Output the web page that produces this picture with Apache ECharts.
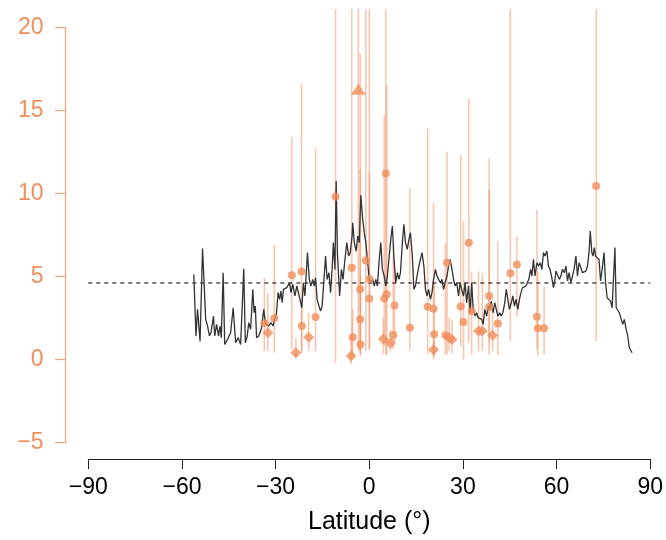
<!DOCTYPE html>
<html><head><meta charset="utf-8">
<script src="https://cdn.jsdelivr.net/npm/echarts@6/dist/echarts.min.js"></script>
<style>html,body{margin:0;padding:0;background:#fff}#c{width:666px;height:540px}</style>
</head><body><div id="c"></div>
<script>
// Black line: latitude (deg) and value
const lineLat = [
-56.2,-55.5,-55.0,-54.2,-53.4,-52.4,-51.8,-51.2,-50.7,-49.9,
-49.5,-48.9,-48.3,-47.8,-47.4,-46.8,-46.3,-45.4,-44.4,-43.6,
-42.8,-42.0,-41.2,-40.6,-40.2,-39.7,-39.1,-38.6,-38.0,-37.3,
-36.9,-36.5,-36.1,-35.4,-34.6,-33.8,-33.3,-32.2,-31.5,-30.8,
-30.4,-29.8,-29.2,-28.7,-28.3,-27.9,-27.5,-26.9,-26.4,-25.5,
-25.1,-24.5,-23.8,-23.2,-22.7,
-22.2,-21.6,-21.1,-20.6,-19.8,-19.2,-18.7,-18.1,-17.6,-17.2,
-16.7,-16.1,-15.6,-15.1,-14.6,-14.0,-13.5,-12.9,-12.4,-11.9,
-11.5,-11.0,-10.6,-10.2,-9.5,-8.9,-8.4,-7.9,-7.2,-6.6,
-6.1,-5.5,
-5.3,-4.8,-4.2,-3.7,-3.2,-2.7,-2.1,-1.6,-1.1,-0.5,
0.0,0.5,1.1,1.6,2.1,2.6,3.2,3.7,4.2,4.8,
5.3,5.8,6.3,6.9,7.4,8.0,8.5,9.0,9.5,10.0,
10.6,11.1,11.6,12.2,12.7,13.2,13.8,14.3,14.8,15.3,
15.9,16.4,16.9,17.5,18.0,18.5,19.0,19.6,20.1,20.6,
21.2,21.7,22.2,22.8,23.3,23.8,24.3,24.9,25.4,25.9,
26.5,27.0,27.5,28.0,28.6,29.1,29.6,
30.2,30.7,31.2,31.8,32.3,32.8,33.3,33.9,34.4,34.9,
35.5,36.0,36.5,37.0,37.6,38.1,38.6,39.1,39.7,40.2,
40.7,41.2,41.8,42.3,42.8,43.4,43.9,44.4,44.9,45.5,
46.0,46.5,47.0,47.6,48.1,48.6,49.1,49.7,50.2,50.7,
51.1,51.7,52.1,52.6,53.1,53.7,54.3,54.8,55.3,55.8,
56.3,56.9,57.4,57.9,58.4,59.0,59.5,
59.8,60.3,60.9,61.4,61.9,62.5,63.0,63.5,64.0,64.6,
65.1,65.6,66.2,66.7,67.2,67.8,68.3,68.8,69.4,69.9,
70.4,70.8,71.3,71.7,72.1,72.5,73.1,73.6,74.1,74.6,
75.2,75.7,76.2,76.8,77.3,77.8,78.3,78.7,79.1,79.6,
80.1,80.7,81.2,81.7,82.3,82.8,83.3,84.2];
const lineVal = [
5.12,1.41,3.01,1.10,6.67,2.41,2.01,1.41,1.61,2.61,
1.41,2.11,1.41,2.01,1.31,5.22,0.90,1.20,1.61,3.11,
1.00,1.31,0.90,1.00,5.46,1.00,1.41,2.21,1.81,4.22,
2.81,3.21,1.31,1.41,1.81,3.01,2.21,2.01,2.21,2.01,
2.41,2.61,4.02,3.61,4.12,3.41,4.22,4.22,4.32,4.62,
4.02,4.52,3.82,4.42,4.52,
3.61,3.11,4.62,3.82,6.43,4.82,4.42,4.82,4.42,4.92,
3.61,3.21,2.91,3.21,3.31,6.22,4.82,5.22,4.02,5.42,
7.03,5.42,10.74,6.43,3.82,5.42,4.82,5.82,7.03,6.22,
6.43,7.43,
8.23,7.03,6.52,7.43,7.03,9.90,8.43,7.63,7.03,7.13,
4.82,4.62,4.82,4.42,4.82,4.42,6.02,7.03,5.42,5.02,
4.42,5.02,6.02,7.23,8.03,5.82,4.62,5.22,4.82,5.22,
7.03,8.13,7.03,6.63,7.23,7.63,6.22,4.22,4.42,5.02,
5.62,6.02,6.43,5.62,4.22,3.82,4.22,3.61,4.02,4.82,
5.42,5.02,4.82,4.62,4.82,4.22,4.62,5.02,5.62,6.02,
5.42,4.82,4.42,4.62,3.82,4.62,4.22,
3.82,4.62,3.41,4.42,2.81,4.62,3.01,2.61,2.81,2.51,
2.61,2.41,2.11,3.01,2.61,3.21,3.01,3.51,2.81,3.41,
3.01,2.61,2.81,2.61,2.81,3.41,4.22,3.61,3.01,3.41,
3.82,3.21,3.61,3.01,3.61,4.02,4.32,4.22,4.42,4.52,
4.82,5.42,5.02,6.02,5.02,5.82,5.62,5.82,5.42,6.43,
6.22,6.53,5.62,5.42,5.02,4.32,4.82,
5.32,5.42,4.82,5.02,5.42,5.22,5.62,4.72,5.22,4.62,
4.72,5.42,6.22,5.02,5.82,5.52,5.22,5.12,5.32,5.62,
6.43,7.73,6.43,6.22,6.73,6.22,6.33,6.02,4.72,5.42,
6.43,4.62,3.71,3.71,3.51,3.11,3.11,6.73,3.11,3.01,
2.81,2.71,2.11,2.41,1.81,1.41,0.70,0.40];

// Reference (dashed) level
const refLevel = 4.6;

// Circle points: latitude, value, lower and upper bar ends
const circleLat = [-33.6,-30.4,-24.8,-21.7,-21.6,-17.2,-10.8,-5.6,-5.3,-2.9,-2.9,-2.8,-1.1,0.0,0.1,5.3,4.8,5.6,7.7,8.1,13.0,18.7,20.6,20.8,24.9,24.4,29.3,30.2,31.9,32.8,38.4,38.4,41.2,45.2,47.3,53.7,54.0,56.0,72.7];
const circleVal = [2.17,2.47,5.06,5.30,2.01,2.55,9.80,5.52,1.34,4.22,2.41,0.90,5.96,3.67,4.82,11.2,3.67,3.92,1.47,3.25,1.91,3.17,3.05,1.51,5.82,1.46,3.18,2.25,7.02,2.90,3.82,3.15,2.16,5.18,5.71,2.57,1.87,1.87,10.44];
const circleLo  = [0.5,0.4,0.6,0.5,0.4,0.5,-0.2,0.0,0.2,0.5,0.3,0.2,0.5,0.6,0.6,0.3,0.8,0.3,0.6,1.0,0.5,0.3,0.0,0.2,0.3,0.3,0.8,0.0,1.0,0.3,0.3,1.0,0.3,1.1,2.6,0.6,0.2,0.3,1.1];
const circleHi  = [4.9,6.9,13.4,16.6,3.6,12.7,30,30,3.0,18.4,11.4,5.0,30,30,11.3,30,14.7,16.5,7.0,6.0,10.3,13.9,9.4,4.5,12.5,7.0,12.3,8.3,15.7,5.3,12.1,10.2,7.1,30,7.4,9.0,5.3,4.4,30];

// Diamond points
const diamondLat = [-32.5,-23.5,-19.4,-5.8,4.5,6.8,20.6,25.6,26.5,35.0,36.2,39.5];
const diamondVal = [1.61,0.40,1.34,0.20,1.23,0.99,0.58,1.31,1.20,1.71,1.71,1.45];
const diamondLo  = [0.5,0.1,0.5,-0.3,0.3,0.5,0.2,0.5,0.4,0.5,0.5,0.5];
const diamondHi  = [4.0,1.3,2.8,1.5,2.5,1.8,1.2,2.5,2.4,5.3,5.2,3.0];

// Triangle point
const triLat = [-3.5];
const triVal = [16.27];
const triLo  = [0.5];
const triHi  = [30];

const xTicks = [-90,-60,-30,0,30,60,90];
const yTicks = [-5,0,5,10,15,20];

const ORANGE = '#F08E5B';
const BAR = 'rgba(241,143,95,0.5)';
const CLIP_TOP = 21.1;
const fmt = v => (v < 0 ? '\u2212' + Math.abs(v) : String(v));

const zip = (a, b) => a.map((v, i) => [v, b[i]]);
const bars = [].concat(
  circleLat.map((v, i) => [v, circleLo[i], circleHi[i]]),
  diamondLat.map((v, i) => [v, diamondLo[i], diamondHi[i]]),
  triLat.map((v, i) => [v, triLo[i], triHi[i]])
);

const chart = echarts.init(document.getElementById('c'), null, {renderer: 'canvas'});
chart.setOption({
  animation: false,
  backgroundColor: '#fff',
  grid: {left: 88.3, right: 10.7, top: 27.3, bottom: 97.3, containLabel: false},
  xAxis: {
    type: 'value', min: xTicks[0], max: xTicks[xTicks.length - 1], interval: 30,
    offset: 16.6,
    name: 'Latitude (°)', nameLocation: 'middle', nameGap: 51,
    nameTextStyle: {fontFamily: 'Liberation Sans', fontSize: 25, color: '#000'},
    axisLine: {show: true, onZero: false, lineStyle: {color: '#222', width: 1}},
    axisTick: {show: true, length: 10, lineStyle: {color: '#222', width: 1}},
    axisLabel: {fontFamily: 'Liberation Sans', fontSize: 23, color: '#000', margin: 17, formatter: fmt, showMinLabel: true, showMaxLabel: true},
    splitLine: {show: false}
  },
  yAxis: {
    type: 'value', min: yTicks[0], max: yTicks[yTicks.length - 1], interval: 5,
    offset: 23.3,
    axisLine: {show: true, onZero: false, lineStyle: {color: '#F2A379', width: 1.2}},
    axisTick: {show: true, length: 10, lineStyle: {color: '#F2A379', width: 1.2}},
    axisLabel: {fontFamily: 'Liberation Sans', fontSize: 23, color: ORANGE, margin: 21.5, formatter: fmt, showMinLabel: true, showMaxLabel: true},
    splitLine: {show: false}
  },
  series: [
    {
      type: 'custom', clip: false, z: 1,
      data: bars,
      encode: {x: 0, y: [1, 2]},
      renderItem: function (params, api) {
        const x = api.value(0);
        const lo = api.value(1);
        const hi = Math.min(api.value(2), CLIP_TOP);
        const p1 = api.coord([x, lo]);
        const p2 = api.coord([x, hi]);
        return {type: 'line', shape: {x1: p1[0], y1: p1[1], x2: p2[0], y2: p2[1]},
                style: {stroke: BAR, lineWidth: 1.6}};
      }
    },
    {
      type: 'line', z: 2, data: [[xTicks[0], refLevel], [xTicks[xTicks.length - 1], refLevel]],
      showSymbol: false, symbol: 'none', silent: true,
      lineStyle: {color: '#111', width: 1.1, type: [4, 4]}
    },
    {
      type: 'line', z: 3, data: zip(lineLat, lineVal),
      showSymbol: false, symbol: 'none', clip: false,
      lineStyle: {color: '#333', width: 1.3}
    },
    {
      type: 'scatter', z: 4, data: zip(circleLat, circleVal),
      symbol: 'circle', symbolSize: 8, itemStyle: {color: ORANGE}
    },
    {
      type: 'scatter', z: 4, data: zip(diamondLat, diamondVal),
      symbol: 'diamond', symbolSize: 11, itemStyle: {color: ORANGE}
    },
    {
      type: 'scatter', z: 4, data: zip(triLat, triVal),
      symbol: 'triangle', symbolSize: [15, 11], itemStyle: {color: ORANGE}
    }
  ]
});
</script>
</body></html>
